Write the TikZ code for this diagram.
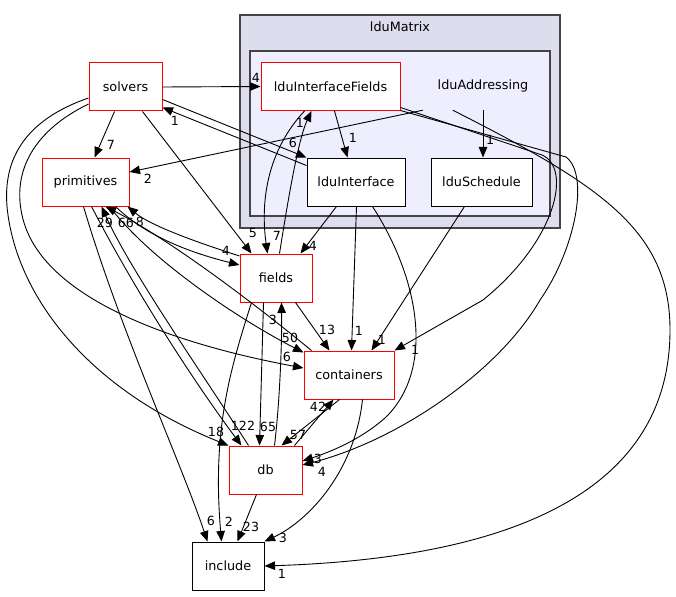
\documentclass[tikz,border=0pt]{standalone}
\usepackage{fontspec}
\setmainfont{DejaVu Sans}
\usetikzlibrary{arrows.meta,calc}
\definecolor{clout}{RGB}{221,221,238}
\definecolor{clin}{RGB}{238,238,255}
\definecolor{clline}{RGB}{68,68,68}
\begin{document}
\begin{tikzpicture}[x=1pt,y=-1pt,
  txt/.style={font=\fontsize{12.8}{15}\selectfont},
  box/.style={txt, draw=red, fill=white, line width=1pt, minimum height=48pt, inner sep=0pt},
  bbox/.style={box, draw=black},
  cluster/.style={draw=clline, line width=1.3pt, inner sep=0pt},
  edge/.style={-{Triangle[length=10.5pt,width=8.5pt]}, line width=0.9pt},
  lbl/.style={font=\fontsize{12.6}{14}\selectfont, inner sep=0pt}]
\useasboundingbox (0,0) rectangle (676,596);
\fill[white] (0,0) rectangle (676,596);
% clusters
\node[cluster, fill=clout, minimum width=320pt, minimum height=213pt] (mat) at (400,121.5) {};
\node[txt] (matlbl) at (400,27) {lduMatrix};
\node[cluster, fill=clin, minimum width=300pt, minimum height=165pt] (inner) at (400,133.5) {};
% nodes
\node[box, minimum width=73pt] (solvers) at (125.5,87) {solvers};
\node[box, minimum width=139pt] (lif) at (330.5,86.5) {lduInterfaceFields};
\node[txt, minimum width=110pt, minimum height=48pt, inner sep=0pt] (lad) at (483,86) {lduAddressing};
\node[bbox, minimum width=98pt] (li) at (356,182) {lduInterface};
\node[bbox, minimum width=101pt] (lsch) at (481.5,182) {lduSchedule};
\node[box, minimum width=87pt] (prim) at (85.5,182) {primitives};
\node[box, minimum width=72pt] (fields) at (276,278) {fields};
\node[box, minimum width=90pt] (cont) at (349,375) {containers};
\node[box, minimum width=73pt] (db) at (265.5,470) {db};
\node[bbox, minimum width=72pt] (inc) at (228,566) {include};
% edges
\draw[edge] (solvers.east) -- (lif.west);
\node[lbl] (l1) at (256,78) {4};
\draw[edge] ($(solvers.south west)+(26,0)$) -- ($(prim.north west)+(53,0)$);
\node[lbl] (l2) at (111,145) {7};
\draw[edge] ($(solvers.south west)+(54,0)$) -- ($(fields.north west)+(12,0)$);
\node[lbl] (l3) at (253,233) {5};
\draw[edge] ($(solvers.north east)+(0,37)$) -- (li.north west);
\node[lbl] (l4) at (293,143) {6};
\draw[edge] ($(li.north west)+(0,8)$) -- ($(solvers.north east)+(0,45)$);
\node[lbl] (l5) at (175,121) {1};
\draw[edge] ($(solvers.west)+(0,17)$) .. controls (35,130) and (12,170) .. (22,215)
   .. controls (40,300) and (180,345) .. ($(cont.west)+(0,-7)$);
\node[lbl] (l6) at (287,357) {6};
\draw[edge] ($(solvers.west)+(0,11)$) .. controls (25,120) and (0,160) .. (8,215)
   .. controls (20,300) and (90,390) .. (db.north west);
\node[lbl] (l7) at (216,432) {18};
\draw[edge] ($(lad.south west)+(-5,0)$) -- ($(prim.east)+(0,-10)$);
\node[lbl] (l8) at (148,179) {2};
\draw[edge] (lad.south) -- (lad.south |- lsch.north);
\node[lbl] (l9) at (490,140) {1};
\draw[edge] ($(lad.south west)+(25,0)$) .. controls (600,185) and (670,230) .. (670,330)
   .. controls (670,520) and (450,560) .. (inc.east);
\node[lbl] (l10) at (282,574) {1};
\draw[edge] ($(lif.south west)+(74,0)$) -- ($(li.north west)+(41,0)$);
\node[lbl] (l11) at (353,138) {1};
\draw[edge] ($(lif.south west)+(44,0)$) .. controls (268,150) and (260,200) .. ($(fields.north west)+(28,0)$);
\node[lbl] (l12) at (277,236) {7};
\draw[edge] ($(fields.north west)+(40,0)$) .. controls (288,200) and (298,140) .. ($(lif.south west)+(51,0)$);
\node[lbl] (l13) at (300,123) {1};
\draw[edge] ($(lif.east)+(0,21)$) -- (542,155) .. controls (572,168) and (557,240) .. (483,300) -- (cont.north east);
\node[lbl] (l14) at (415,350) {1};
\draw[edge] ($(lif.east)+(0,24)$) -- (566,157) .. controls (590,175) and (575,250) .. (540,300)
   .. controls (500,370) and (400,440) .. ($(db.east)+(0,-5)$);
\node[lbl] (l15) at (322,472) {4};
\draw[edge] ($(li.south west)+(50,0)$) -- ($(cont.north west)+(48,0)$);
\node[lbl] (l16) at (359,331) {1};
\draw[edge] ($(li.south west)+(30,0)$) -- ($(fields.north east)+(-12,0)$);
\node[lbl] (l17) at (313,246) {4};
\draw[edge] ($(li.south west)+(66,0)$) .. controls (420,280) and (435,370) .. (385,418)
   .. controls (360,440) and (330,452) .. ($(db.east)+(0,-9)$);
\node[lbl] (l18) at (318,459) {3};
\draw[edge] ($(lsch.south west)+(34,0)$) -- ($(cont.north west)+(68,0)$);
\node[lbl] (l19) at (382,340) {1};
\draw[edge] ($(fields.south east)+(-17,0)$) -- ($(cont.north west)+(26,0)$);
\node[lbl] (l20) at (327,330) {13};
\draw[edge] ($(fields.south west)+(24,0)$) -- ($(db.north west)+(31,0)$);
\node[lbl] (l21) at (268,427) {65};
\draw[edge] ($(db.north west)+(46,0)$) .. controls (280,400) and (282,340) .. ($(fields.south west)+(42,0)$);
\node[lbl] (l22) at (273,320) {3};
\draw[edge] ($(fields.south west)+(12,0)$) .. controls (230,370) and (212,430) .. ($(inc.north west)+(30,0)$);
\node[lbl] (l23) at (229,522) {2};
\draw[edge] ($(db.south west)+(28,0)$) -- ($(inc.north west)+(46,0)$);
\node[lbl] (l24) at (251,527) {23};
\draw[edge] ($(cont.south west)+(59,0)$) .. controls (355,470) and (310,520) .. (inc.north east);
\node[lbl] (l25) at (283,538) {3};
\draw[edge] ($(cont.south west)+(36,0)$) -- ($(db.north west)+(53,0)$);
\node[lbl] (l26) at (298,435) {57};
\draw[edge] ($(db.north west)+(66,0)$) -- ($(cont.south west)+(30,0)$);
\node[lbl] (l27) at (318,407) {42};
\draw[edge] ($(prim.south west)+(42,0)$) .. controls (120,330) and (180,460) .. ($(inc.north west)+(16,0)$);
\node[lbl] (l28) at (211,521) {6};
\draw[edge] ($(prim.south west)+(50,0)$) .. controls (140,300) and (200,390) .. ($(db.north west)+(13,0)$);
\node[lbl] (l29) at (243,426) {122};
\draw[edge] ($(db.north west)+(20,0)$) .. controls (200,370) and (130,270) .. ($(prim.south west)+(60,0)$);
\node[lbl] (l30) at (105,223) {29};
\draw[edge] ($(cont.north west)+(8,0)$) .. controls (250,300) and (170,240) .. ($(prim.south west)+(64,0)$);
\node[lbl] (l31) at (140,222) {8};
\draw[edge] ($(prim.south west)+(68,0)$) .. controls (150,260) and (240,320) .. ($(cont.north west)+(0,2)$);
\node[lbl] (l32) at (290,338) {50};
\draw[edge] ($(fields.west)+(0,-22)$) .. controls (190,240) and (150,225) .. ($(prim.south west)+(86,0)$);
\node[lbl] (l33) at (126,223) {66};
\draw[edge] ($(prim.south west)+(74,0)$) .. controls (150,240) and (200,255) .. ($(fields.west)+(0,-13)$);
\node[lbl] (l34) at (226,251) {4};
\end{tikzpicture}
\end{document}
